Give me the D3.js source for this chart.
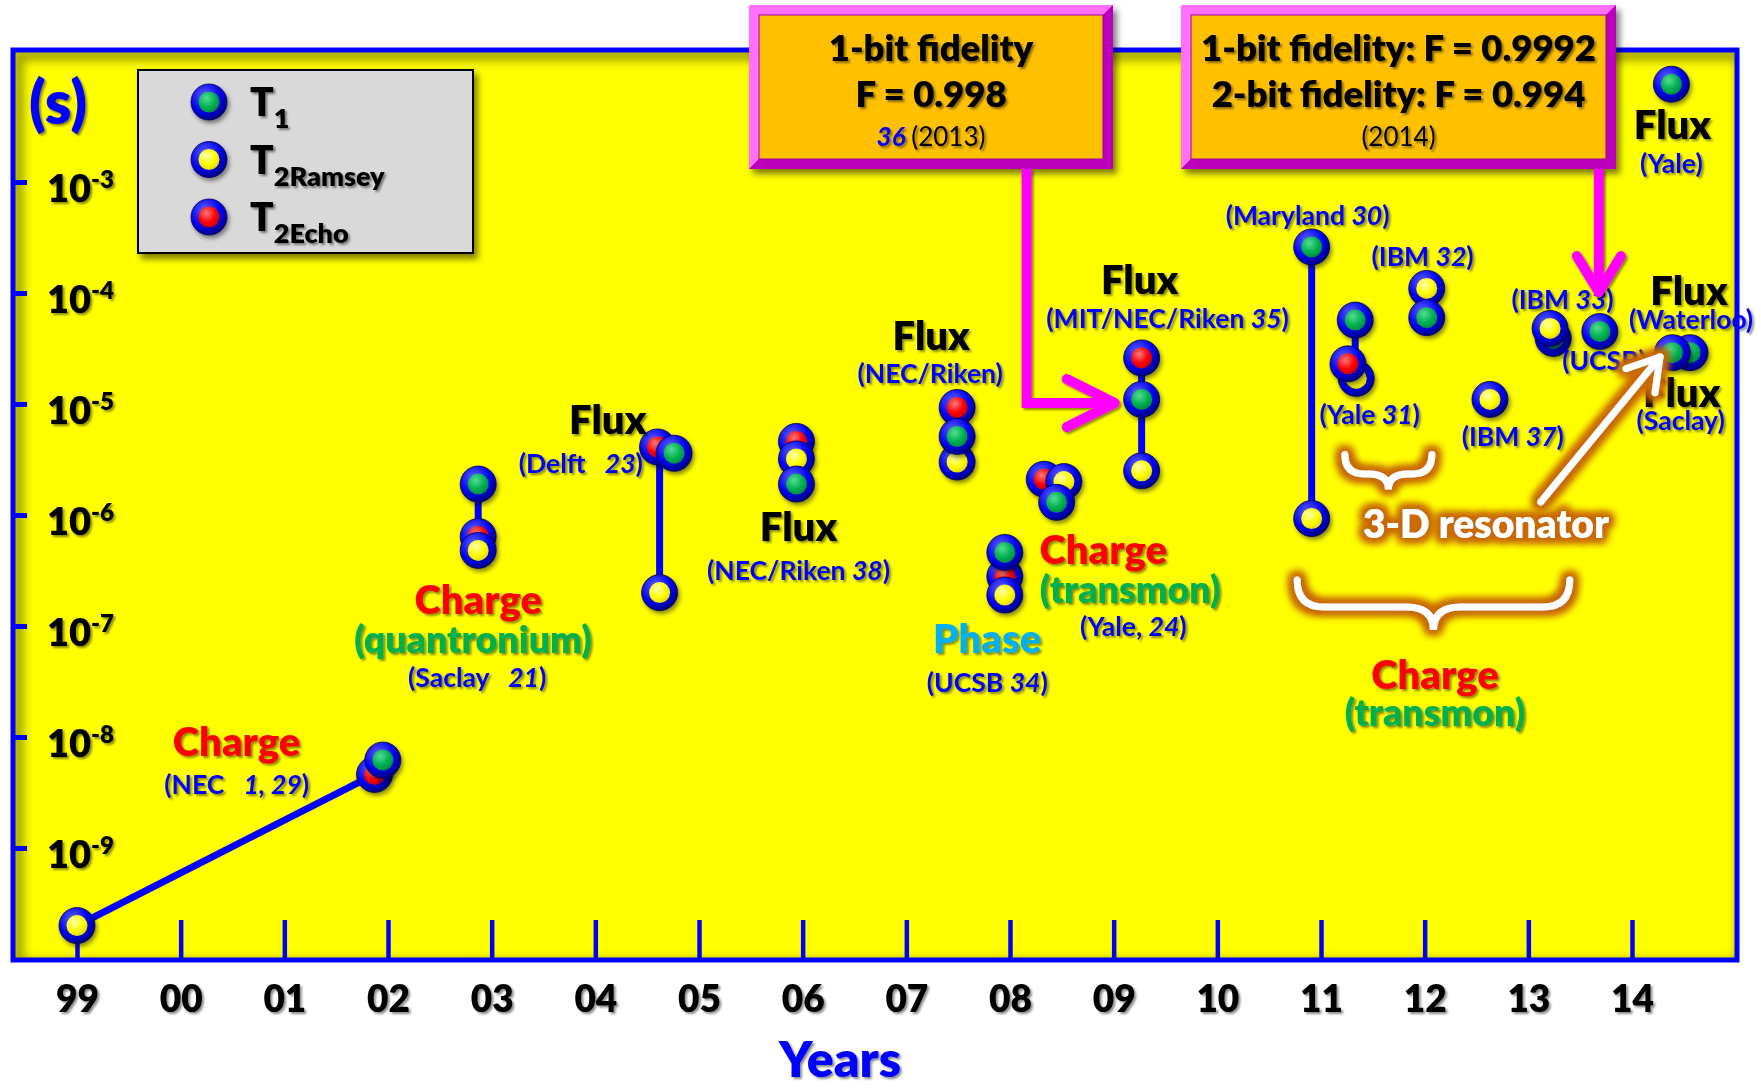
<!DOCTYPE html>
<html>
<head>
<meta charset="utf-8">
<script src="https://cdn.jsdelivr.net/npm/d3@7"></script>
<style>
  body { margin: 0; background: #fff; }
  svg { display: block; font-family: Lato, "Open Sans", sans-serif; }
  text { white-space: pre; }
</style>
</head>
<body>
<svg id="chart" width="1761" height="1088"></svg>
<script>
// ---- data ----
const years = d3.range(1999, 2015);
const yearLabels = ["99","00","01","02","03","04","05","06","07","08","09","10","11","12","13","14"];
const decades = [-3, -4, -5, -6, -7, -8, -9];
const series = ["T1", "T2Ramsey", "T2Echo"];
const seriesSub = ["1", "2Ramsey", "2Echo"];

// coherence times [year, seconds, series], listed in drawing order
const coherence = [
  [1999.00, 2.0e-10, "T2Ramsey"],
  [2001.87, 4.6e-9, "T2Echo"],
  [2001.95, 6.2e-9, "T1"],
  [2002.87, 1.9e-6, "T1"],
  [2002.87, 6.4e-7, "T2Echo"],
  [2002.87, 4.8e-7, "T2Ramsey"],
  [2004.62, 2.0e-7, "T2Ramsey"],
  [2004.60, 4.1e-6, "T2Echo"],
  [2004.76, 3.6e-6, "T1"],
  [2005.94, 4.6e-6, "T2Echo"],
  [2005.94, 3.2e-6, "T2Ramsey"],
  [2005.94, 1.9e-6, "T1"],
  [2007.49, 3.0e-6, "T2Ramsey"],
  [2007.49, 9.3e-6, "T2Echo"],
  [2007.49, 5.1e-6, "T1"],
  [2007.95, 2.8e-7, "T2Echo"],
  [2007.95, 4.6e-7, "T1"],
  [2007.95, 1.9e-7, "T2Ramsey"],
  [2008.33, 2.1e-6, "T2Echo"],
  [2008.52, 2.0e-6, "T2Ramsey"],
  [2008.45, 1.3e-6, "T1"],
  [2009.27, 2.6e-5, "T2Echo"],
  [2009.27, 1.1e-5, "T1"],
  [2009.27, 2.5e-6, "T2Ramsey"],
  [2010.91, 2.6e-4, "T1"],
  [2010.91, 9.3e-7, "T2Ramsey"],
  [2011.34, 1.7e-5, "T2Ramsey"],
  [2011.26, 2.3e-5, "T2Echo"],
  [2011.33, 5.7e-5, "T1"],
  [2012.02, 1.1e-4, "T2Ramsey"],
  [2012.02, 6.0e-5, "T1"],
  [2012.63, 1.1e-5, "T2Ramsey"],
  [2013.24, 3.9e-5, "T1"],
  [2013.21, 4.8e-5, "T2Ramsey"],
  [2013.69, 4.5e-5, "T1"],
  [2014.56, 2.9e-5, "T1"],
  [2014.39, 2.9e-5, "T1"],
  [2014.38, 7.6e-3, "T1"]
];

// blue connecting lines [yearA, secondsA, yearB, secondsB]
const links = [
  [1999.00, 2.0e-10, 2001.87, 4.6e-9],
  [2002.87, 1.9e-6, 2002.87, 6.4e-7],
  [2004.62, 3.6e-6, 2004.62, 2.0e-7],
  [2009.27, 2.6e-5, 2009.27, 2.5e-6],
  [2010.91, 2.6e-4, 2010.91, 9.3e-7],
  [2011.33, 5.7e-5, 2011.33, 2.3e-5]
];

// annotations [year, seconds, text, kind]; *...* is italic
const labels = [
  [2000.54, 9.2e-9, "Charge", "charge"],
  [2000.54, 3.8e-9, "(NEC   *1, 29*)", "ref"],
  [2002.87, 1.75e-7, "Charge", "charge"],
  [2002.82, 7.8e-8, "(quantronium)", "transmon"],
  [2002.86, 3.5e-8, "(Saclay   *21*)", "ref"],
  [2004.12, 7.3e-6, "Flux", "flux"],
  [2003.86, 2.95e-6, "(Delft   *23*)", "ref"],
  [2005.96, 7.9e-7, "Flux", "flux"],
  [2005.96, 3.2e-7, "(NEC/Riken *38*)", "ref"],
  [2007.24, 4.2e-5, "Flux", "flux"],
  [2007.23, 1.9e-5, "(NEC/Riken)", "ref"],
  [2007.78, 7.8e-8, "Phase", "phase"],
  [2007.78, 3.1e-8, "(UCSB *34*)", "ref"],
  [2008.90, 4.9e-7, "Charge", "charge"],
  [2009.16, 2.2e-7, "(transmon)", "transmon"],
  [2009.19, 1.0e-7, "(Yale, *24*)", "ref"],
  [2009.25, 1.34e-4, "Flux", "flux"],
  [2009.52, 6.0e-5, "(MIT/NEC/Riken *35*)", "ref"],
  [2010.87, 5.0e-4, "(Maryland *30*)", "ref"],
  [2011.98, 2.15e-4, "(IBM *32*)", "ref"],
  [2011.47, 8.1e-6, "(Yale *31*)", "ref"],
  [2012.85, 5.2e-6, "(IBM *37*)", "ref"],
  [2013.33, 8.8e-5, "(IBM *33*)", "ref"],
  [2013.73, 2.5e-5, "(UCSB)", "ref"],
  [2014.55, 1.06e-4, "Flux", "flux"],
  [2014.57, 5.8e-5, "(Waterloo)", "ref"],
  [2014.48, 1.28e-5, "Flux", "flux"],
  [2014.47, 7.2e-6, "(Saclay)", "ref"],
  [2014.39, 3.3e-3, "Flux", "flux"],
  [2014.38, 1.48e-3, "(Yale)", "ref"],
  [2012.59, 8.5e-7, "3-D resonator", "resonator"],
  [2012.10, 3.7e-8, "Charge", "charge"],
  [2012.10, 1.7e-8, "(transmon)", "transmon"]
];

// curly braces [yearStart, yearEnd, topSeconds, tipSeconds]
const braces = [
  [2011.23, 2012.07, 3.5e-6, 1.7e-6],
  [2010.77, 2013.40, 2.6e-7, 9.2e-8]
];
// white arrow [yearFrom, secondsFrom, yearTo, secondsTo]
const resonatorArrow = [2013.12, 1.31e-6, 2014.27, 2.65e-5];
// magenta arrows: turn/tip positions
const fidelityArrow2013 = [2008.16, 1.02e-5, 2009.01];
const fidelityArrow2014 = [2013.68, 1.02e-4];

const fidelity2013 = ["1-bit fidelity", "F = 0.998"];
const fidelity2014 = ["1-bit fidelity: F = 0.9992", "2-bit fidelity: F = 0.994"];

// ---- styles ----
const labelStyle = {
  flux: { fill: "#000", size: 40 },
  charge: { fill: "#ff0000", size: 40 },
  transmon: { fill: "#00b050", size: 37.5 },
  phase: { fill: "#00b0f0", size: 40 },
  ref: { fill: "#0000ff", size: 26.5 },
  resonator: { fill: "#ffffff", size: 39 }
};
const blue = "#0000ff";
const magenta = "#ff00ff";

// ---- scales ----
const x = d3.scaleLinear().domain([1999, 2014]).range([77, 1632]);
const y = d3.scaleLog().domain([1e-9, 1e-3]).range([848, 182]);
const frame = { x0: 13, y0: 50, x1: 1737, y1: 960 };

const svg = d3.select("#chart");
const defs = svg.append("defs");

function radial(id, c0, c1, c2) {
  const g = defs.append("radialGradient").attr("id", id)
    .attr("cx", "38%").attr("cy", "32%").attr("r", "72%");
  g.append("stop").attr("offset", "0%").attr("stop-color", c0);
  g.append("stop").attr("offset", "60%").attr("stop-color", c1);
  g.append("stop").attr("offset", "100%").attr("stop-color", c2);
}
radial("ring", "#6060ff", "#0000ee", "#00007a");
radial("fill-T1", "#55dd90", "#00b050", "#008a3e");
radial("fill-T2Ramsey", "#ffffb0", "#ffff00", "#e6d600");
radial("fill-T2Echo", "#ff7a7a", "#ff0000", "#c80000");

function dropShadow(id, dx, dy, sd, op) {
  const f = defs.append("filter").attr("id", id)
    .attr("x", "-20%").attr("y", "-20%").attr("width", "150%").attr("height", "160%");
  f.append("feDropShadow").attr("dx", dx).attr("dy", dy).attr("stdDeviation", sd)
    .attr("flood-color", "#000").attr("flood-opacity", op);
}
dropShadow("textShadow", 2, 2, 1.3, 0.45);
dropShadow("markShadow", 2, 3, 2, 0.45);
dropShadow("boxShadow", 4, 5, 3, 0.5);

defs.append("filter").attr("id", "blur")
  .append("feGaussianBlur").attr("stdDeviation", 5);

const glow = defs.append("filter").attr("id", "glow")
  .attr("x", "-30%").attr("y", "-60%").attr("width", "160%").attr("height", "220%");
glow.append("feMorphology").attr("in", "SourceAlpha").attr("operator", "dilate").attr("radius", 2.5).attr("result", "d");
glow.append("feGaussianBlur").attr("in", "d").attr("stdDeviation", 4).attr("result", "b");
glow.append("feFlood").attr("flood-color", "#c96a00").attr("result", "f");
glow.append("feComposite").attr("in", "f").attr("in2", "b").attr("operator", "in").attr("result", "g");
const gm = glow.append("feMerge");
gm.append("feMergeNode").attr("in", "g");
gm.append("feMergeNode").attr("in", "g");
gm.append("feMergeNode").attr("in", "g");
gm.append("feMergeNode").attr("in", "SourceGraphic");

defs.append("clipPath").attr("id", "plotClip")
  .append("rect").attr("x", frame.x0).attr("y", frame.y0)
  .attr("width", frame.x1 - frame.x0).attr("height", frame.y1 - frame.y0);

// ---- plot background ----
svg.append("rect").attr("x", frame.x0).attr("y", frame.y0)
  .attr("width", frame.x1 - frame.x0).attr("height", frame.y1 - frame.y0)
  .attr("fill", "#ffff00");
svg.append("rect").attr("x", frame.x0 + 5).attr("y", frame.y0 + 5)
  .attr("width", frame.x1 - frame.x0).attr("height", frame.y1 - frame.y0)
  .attr("fill", "none").attr("stroke", "#000").attr("stroke-width", 12)
  .attr("opacity", 0.35).attr("filter", "url(#blur)").attr("clip-path", "url(#plotClip)");

// ---- axes ----
const xAxis = svg.append("g").attr("transform", `translate(0,${frame.y1})`)
  .call(d3.axisBottom(x).tickValues(years).tickSize(-40).tickPadding(26)
    .tickFormat((d, i) => yearLabels[i]));
xAxis.select(".domain").remove();
xAxis.selectAll(".tick line").attr("stroke", blue).attr("stroke-width", 4.5);
xAxis.selectAll(".tick text").attr("fill", "#000").attr("font-size", 37)
  .attr("font-weight", 800).attr("font-family", "Lato, sans-serif")
  .attr("filter", "url(#textShadow)");

const yAxis = svg.append("g").attr("transform", `translate(${frame.x0},0)`)
  .call(d3.axisRight(y).tickValues(decades.map(e => Math.pow(10, e)))
    .tickSize(14).tickPadding(20).tickFormat(() => ""));
yAxis.select(".domain").remove();
yAxis.selectAll(".tick line").attr("stroke", blue).attr("stroke-width", 5);
yAxis.selectAll(".tick text")
  .attr("fill", "#000").attr("font-size", 38).attr("font-weight", 800)
  .attr("font-family", "Lato, sans-serif").attr("dy", "0.5em")
  .attr("filter", "url(#textShadow)")
  .each(function(d, i) {
    const t = d3.select(this);
    t.append("tspan").text("10");
    t.append("tspan").attr("font-size", 24).attr("dy", -14).text(String(decades[i]));
  });

// ---- links and markers ----
svg.append("g").selectAll("line").data(links).join("line")
  .attr("x1", d => x(d[0])).attr("y1", d => y(d[1]))
  .attr("x2", d => x(d[2])).attr("y2", d => y(d[3]))
  .attr("stroke", blue).attr("stroke-width", 7);

function marker(sel, key) {
  sel.append("circle").attr("r", 18).attr("fill", "url(#ring)")
    .attr("stroke", "#000060").attr("stroke-width", 0.8);
  sel.append("circle").attr("r", 10.5).attr("fill", d => `url(#fill-${key(d)})`);
}
svg.append("g").selectAll("g").data(coherence).join("g")
  .attr("transform", d => `translate(${x(d[0])},${y(d[1])})`)
  .attr("filter", "url(#markShadow)")
  .call(marker, d => d[2]);

// ---- labels ----
function richText(sel, str) {
  str.split("*").forEach((part, i) => {
    if (part) sel.append("tspan").attr("font-style", i % 2 ? "italic" : "normal").text(part);
  });
}
svg.append("g").selectAll("text").data(labels).join("text")
  .attr("x", d => x(d[0])).attr("y", d => y(d[1]))
  .attr("text-anchor", "middle").attr("dominant-baseline", "central")
  .attr("font-weight", d => d[3] === "ref" ? 700 : 800)
  .attr("font-size", d => labelStyle[d[3]].size)
  .attr("fill", d => labelStyle[d[3]].fill)
  .attr("filter", d => d[3] === "resonator" ? "url(#glow)" : "url(#textShadow)")
  .each(function(d) { richText(d3.select(this), d[2]); });

// ---- frame ----
svg.append("rect").attr("x", frame.x0).attr("y", frame.y0)
  .attr("width", frame.x1 - frame.x0).attr("height", frame.y1 - frame.y0)
  .attr("fill", "none").attr("stroke", blue).attr("stroke-width", 5);

svg.append("text").attr("x", 58).attr("y", 101).attr("text-anchor", "middle")
  .attr("dominant-baseline", "central").attr("font-size", 60).attr("font-weight", 800)
  .attr("fill", blue).attr("filter", "url(#textShadow)").text("(s)");

svg.append("text").attr("x", 840).attr("y", 1077).attr("text-anchor", "middle")
  .attr("font-size", 50).attr("font-weight", 800)
  .attr("fill", blue).attr("filter", "url(#textShadow)").text("Years");

// ---- legend ----
const legend = svg.append("g");
legend.append("rect").attr("x", 138).attr("y", 70).attr("width", 335).attr("height", 183)
  .attr("fill", "#d9d9d9").attr("stroke", "#000").attr("stroke-width", 2)
  .attr("filter", "url(#boxShadow)");
const legendRow = d3.scalePoint().domain(series).range([102, 217]);
const rows = legend.selectAll("g.row").data(series).join("g").attr("class", "row")
  .attr("transform", d => `translate(209,${legendRow(d)})`);
rows.append("g").attr("filter", "url(#markShadow)").call(marker, d => d);
rows.append("text").attr("x", 41).attr("y", 14).attr("font-size", 39).attr("font-weight", 800)
  .attr("fill", "#000").attr("filter", "url(#textShadow)")
  .each(function(d, i) {
    const t = d3.select(this);
    t.append("tspan").text("T");
    t.append("tspan").attr("font-size", 27).attr("dy", 12).text(seriesSub[i]);
  });

// ---- fidelity callouts ----
function callout(x0, y0, x1, y1) {
  const b = 10;
  const g = svg.append("g").attr("filter", "url(#boxShadow)");
  g.append("rect").attr("x", x0).attr("y", y0).attr("width", x1 - x0).attr("height", y1 - y0)
    .attr("fill", magenta);
  g.append("path").attr("d", `M${x0},${y0}H${x1}L${x1 - b},${y0 + b}H${x0 + b}V${y1 - b}L${x0},${y1}Z`)
    .attr("fill", "#ff70ff");
  g.append("path").attr("d", `M${x1},${y1}H${x0}L${x0 + b},${y1 - b}H${x1 - b}V${y0 + b}L${x1},${y0}Z`)
    .attr("fill", "#bb00bb");
  g.append("rect").attr("x", x0 + b).attr("y", y0 + b)
    .attr("width", x1 - x0 - 2 * b).attr("height", y1 - y0 - 2 * b)
    .attr("fill", "#ffc000").attr("stroke", "#a000a0").attr("stroke-width", 1);
  return (x0 + x1) / 2;
}
function calloutText(cx, lines, ref, yr) {
  const g = svg.append("g").attr("text-anchor", "middle").attr("filter", "url(#textShadow)");
  g.selectAll("text.big").data(lines).join("text").attr("class", "big")
    .attr("x", cx).attr("y", (d, i) => 61 + i * 46)
    .attr("font-size", 36.5).attr("font-weight", 800).attr("fill", "#000").text(d => d);
  const t = g.append("text").attr("x", cx).attr("y", 146).attr("font-size", 26).attr("fill", "#000");
  if (ref) t.append("tspan").attr("fill", blue).attr("font-weight", 700).attr("font-style", "italic").text(ref + " ");
  t.append("tspan").text(yr);
}
const c1 = callout(749, 5, 1113, 169);
calloutText(c1, fidelity2013, "36", "(2013)");
const c2 = callout(1181, 5, 1616, 169);
calloutText(c2, fidelity2014, null, "(2014)");

// ---- magenta arrows ----
const arrows = svg.append("g").attr("fill", "none").attr("stroke", magenta)
  .attr("stroke-width", 10).attr("filter", "url(#textShadow)");
const a1x = x(fidelityArrow2013[0]), a1y = y(fidelityArrow2013[1]), a1t = x(fidelityArrow2013[2]);
arrows.append("path").attr("d", `M${a1x},169V${a1y}H${a1t - 4}`).attr("stroke-linejoin", "miter");
arrows.append("path").attr("d", `M${a1t - 48},${a1y - 24}L${a1t},${a1y}L${a1t - 48},${a1y + 24}`)
  .attr("stroke-linecap", "round").attr("stroke-linejoin", "round");
const a2x = x(fidelityArrow2014[0]), a2t = y(fidelityArrow2014[1]);
arrows.append("path").attr("d", `M${a2x},169V${a2t - 4}`);
arrows.append("path").attr("d", `M${a2x - 22},${a2t - 36}L${a2x},${a2t}L${a2x + 22},${a2t - 36}`)
  .attr("stroke-linecap", "round").attr("stroke-linejoin", "round");

// ---- 3-D resonator braces and arrow ----
function bracePath(d) {
  const x0 = x(d[0]), x1 = x(d[1]), yt = y(d[2]), tip = y(d[3]);
  const ym = (yt + tip) / 2 + 2, r = ym - yt, xc = (x0 + x1) / 2;
  return `M${x0},${yt}Q${x0},${ym} ${x0 + r},${ym}L${xc - r},${ym}Q${xc},${ym} ${xc},${tip}` +
    `Q${xc},${ym} ${xc + r},${ym}L${x1 - r},${ym}Q${x1},${ym} ${x1},${yt}`;
}
const white = svg.append("g").attr("filter", "url(#glow)");
white.selectAll("path.brace").data(braces).join("path").attr("class", "brace")
  .attr("d", bracePath).attr("fill", "none").attr("stroke", "#fff")
  .attr("stroke-width", 7).attr("stroke-linecap", "round");

const [ax0, ay0, ax1, ay1] = [x(resonatorArrow[0]), y(resonatorArrow[1]), x(resonatorArrow[2]), y(resonatorArrow[3])];
const ang = Math.atan2(ay1 - ay0, ax1 - ax0);
const hl = 36, hw = 0.55;
const arrow = white.append("g").attr("fill", "none").attr("stroke", "#fff")
  .attr("stroke-width", 7).attr("stroke-linecap", "round").attr("stroke-linejoin", "round");
arrow.append("line").attr("x1", ax0).attr("y1", ay0).attr("x2", ax1).attr("y2", ay1);
arrow.append("path").attr("d",
  `M${ax1 - hl * Math.cos(ang - hw)},${ay1 - hl * Math.sin(ang - hw)}L${ax1},${ay1}` +
  `L${ax1 - hl * Math.cos(ang + hw)},${ay1 - hl * Math.sin(ang + hw)}`);
</script>
</body>
</html>
